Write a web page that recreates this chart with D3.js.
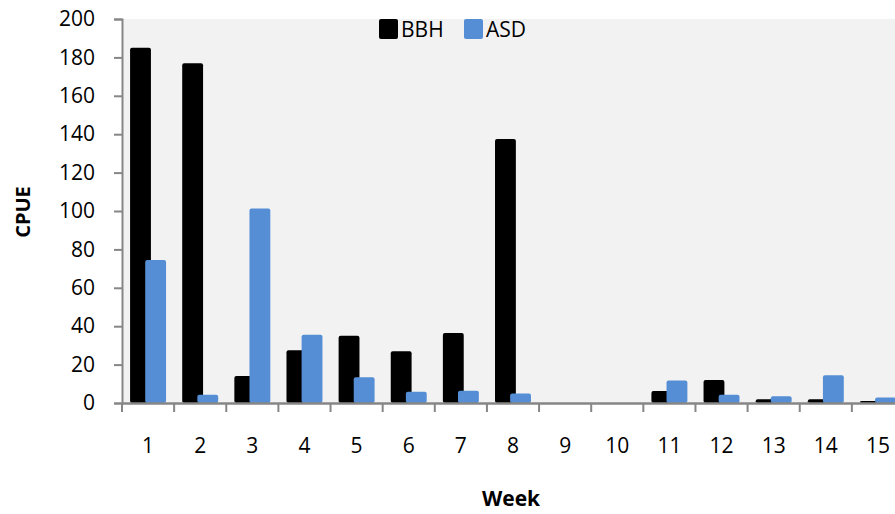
<!DOCTYPE html>
<html><head><meta charset="utf-8">
<script src="https://d3js.org/d3.v7.min.js"></script>
<style>body{margin:0;background:#fff}svg{display:block}text{font-family:"Open Sans",sans-serif}</style>
</head><body><svg id="c" width="895" height="514"></svg>
<script>
const weeks = ["1","2","3","4","5","6","7","8","9","10","11","12","13","14","15"];
const seriesNames = ["BBH","ASD"];
const bbh = [185,177,14,27.5,35,27,36.5,137.5,0,0,6.3,12,1.9,1.9,1.0];
const asd = [74.5,4.3,101.3,35.5,13.4,5.8,6.4,4.9,0,0,11.7,4.3,3.5,14.4,2.8];
const yTicks = [0,20,40,60,80,100,120,140,160,180,200];
const colors = ["#000000","#558ed5"];

const svg = d3.select("#c");
const L = 122, T = 19, B = 403, R = 904;
const x = d3.scaleBand().domain(weeks).range([L, R]).padding(0);
const y = d3.scaleLinear().domain([0,200]).range([B, T]);

svg.append("rect").attr("x",L).attr("y",T).attr("width",R-L).attr("height",B-T).attr("fill","#f2f2f2");

const bw = x.bandwidth();
const barW = bw*0.40, off = bw*0.29;
const data = [bbh, asd];
data.forEach((vals, si) => {
  svg.append("g").selectAll("rect").data(vals).join("rect")
    .attr("x",(d,i)=>x(weeks[i]) + bw*0.155 + si*off)
    .attr("y",d=>y(d))
    .attr("width",barW)
    .attr("height",d=>B-y(d))
    .attr("rx",d=>d>0?2:0)
    .attr("fill",colors[si]);
});

// y axis
const ya = svg.append("g").attr("transform",`translate(${L},0)`)
  .call(d3.axisLeft(y).tickValues(yTicks).tickSize(8).tickPadding(19).tickFormat(d3.format("d")));
ya.select(".domain").attr("stroke","#868686").attr("stroke-width",2);
ya.selectAll(".tick line").attr("stroke","#868686").attr("stroke-width",2);
ya.selectAll("text").attr("font-size",21).attr("fill","#000").style("font-family","Open Sans");

// x axis
const xa = svg.append("g").attr("transform",`translate(0,${B})`)
  .call(d3.axisBottom(x).tickSize(0).tickPadding(35));
xa.select(".domain").attr("stroke","#868686").attr("stroke-width",2.5);
xa.selectAll("text").attr("font-size",21).attr("fill","#000").style("font-family","Open Sans");
svg.append("g").selectAll("line").data(weeks.concat(["end"])).join("line")
  .attr("x1",(d,i)=>L+i*bw).attr("x2",(d,i)=>L+i*bw)
  .attr("y1",B).attr("y2",B+9).attr("stroke","#868686").attr("stroke-width",2);

// axis titles
svg.append("text").attr("x",511).attr("y",506).attr("text-anchor","middle")
  .attr("font-size",21).attr("font-weight","bold").text("Week");
svg.append("text").attr("transform","translate(30,212) rotate(-90)").attr("text-anchor","middle")
  .attr("font-size",20).attr("font-weight","bold").text("CPUE");

// legend
const leg = svg.append("g");
const lx = [379, 464];
seriesNames.forEach((n,i)=>{
  leg.append("rect").attr("x",lx[i]).attr("y",19).attr("width",19).attr("height",20).attr("rx",2).attr("fill",colors[i]);
  leg.append("text").attr("x",lx[i]+22).attr("y",37).attr("font-size",21).text(n);
});
</script></body></html>
